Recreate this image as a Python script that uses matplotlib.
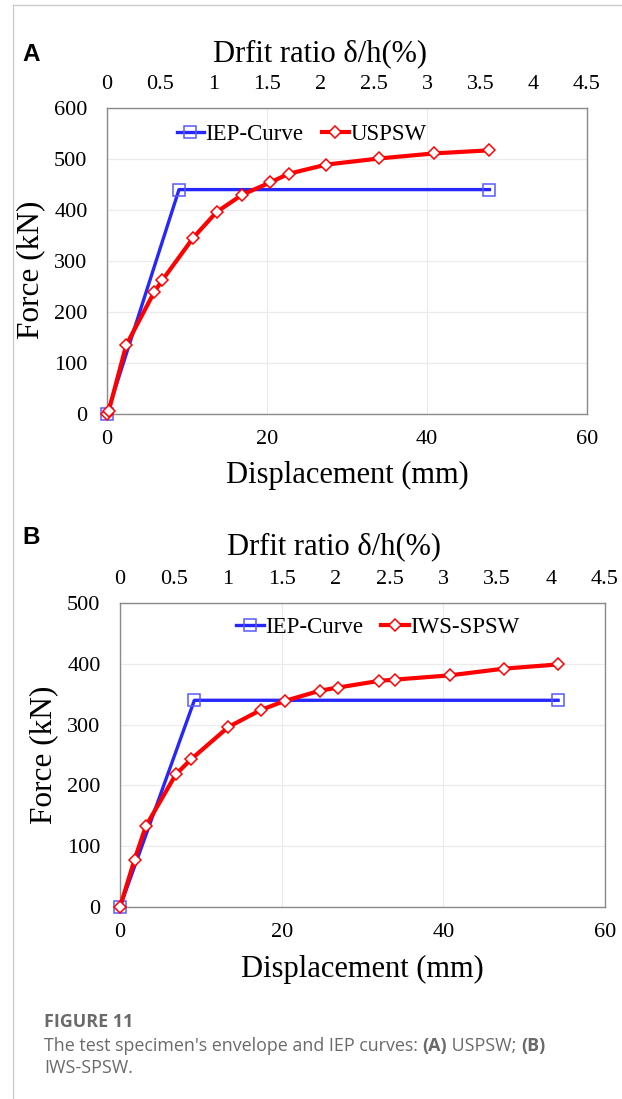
import matplotlib.pyplot as plt
from matplotlib.lines import Line2D

# data
disp_iep_a = [0, 9.0, 47.8]
force_iep_a = [0, 440, 440]
disp_a = [0, 0.2, 2.4, 5.9, 6.9, 10.8, 13.7, 16.9, 20.4, 22.7, 27.4, 34.0, 40.9, 47.8]
force_a = [0, 5, 135, 239, 262, 346, 396, 430, 454, 471, 489, 501, 511, 517]

disp_iep_b = [0, 9.2, 54.2]
force_iep_b = [0, 340, 340]
disp_b = [0, 1.8, 3.2, 6.9, 8.8, 13.4, 17.4, 20.4, 24.8, 27.0, 32.1, 34.0, 40.8, 47.5, 54.2]
force_b = [0, 78, 133, 218, 243, 296, 324, 339, 356, 361, 372, 374, 381, 392, 399]

disp_ticks = [0, 20, 40, 60]
drift_ticks = [0, 0.5, 1, 1.5, 2, 2.5, 3, 3.5, 4, 4.5]
drift_labels = ['0', '0.5', '1', '1.5', '2', '2.5', '3', '3.5', '4', '4.5']
force_ticks_a = [0, 100, 200, 300, 400, 500, 600]
force_ticks_b = [0, 100, 200, 300, 400, 500]

serif = 'Liberation Serif'
blue = '#2626ff'
red = '#ff0000'

fig = plt.figure(figsize=(6.22, 10.99), dpi=100)

# page frame
fig.add_artist(Line2D([12.7 / 622, 12.7 / 622], [0, 1 - 4.7 / 1099], color='#c8c8c8', lw=0.9))
fig.add_artist(Line2D([12.7 / 622, 1], [1 - 4.7 / 1099, 1 - 4.7 / 1099], color='#c8c8c8', lw=0.9))


def panel(rect, iep_x, iep_y, xs, ys, name, yticks, leg_x, leg_y, title_x, title_y, xl_y, yl_y):
    ax = fig.add_axes(rect)
    ax.plot(iep_x, iep_y, color=blue, lw=2.4, marker='s', ms=8,
            mfc='none', mec='#5a5aff', mew=1.1, label='IEP-Curve', zorder=3, clip_on=False)
    ax.plot(xs, ys, color=red, lw=3.0, marker='D', ms=6.4,
            mfc='white', mec=red, mew=1.1, label=name, zorder=4, clip_on=False)
    ax.set_xlim(0, 60)
    ax.set_ylim(0, yticks[-1])
    ax.set_xticks(disp_ticks)
    ax.set_yticks(yticks)
    ax.set_xticklabels([str(t) for t in disp_ticks], fontfamily=serif, fontsize=16)
    ax.set_yticklabels([str(t) for t in yticks], fontfamily=serif, fontsize=16)
    ax.tick_params(axis='x', length=0, pad=11.5)
    ax.tick_params(axis='y', length=0, pad=14)
    ax.grid(True, color='#ebebeb', lw=0.9)
    ax.set_axisbelow(True)
    for s in ax.spines.values():
        s.set_color('#8a8a8a')
        s.set_linewidth(1.0)

    top = ax.twiny()
    top.set_xlim(0, 4.5)
    top.set_xticks(drift_ticks)
    top.set_xticklabels(drift_labels, fontfamily=serif, fontsize=16)
    top.tick_params(axis='x', length=0, pad=10)
    for s in top.spines.values():
        s.set_visible(False)

    ax.text(title_x, title_y, 'Drfit ratio δ/h(%)', transform=ax.transAxes,
            ha='center', va='baseline', fontfamily=serif, fontsize=22)
    ax.text(0.5, xl_y, 'Displacement (mm)', transform=ax.transAxes,
            ha='center', va='baseline', fontfamily=serif, fontsize=22)
    ax.text(-0.158, yl_y, 'Force (kN)', transform=ax.transAxes, rotation=90,
            ha='center', va='center', fontfamily=serif, fontsize=22.5)

    ax.legend(loc='center left', bbox_to_anchor=(leg_x, leg_y), ncol=2, frameon=False,
              prop={'family': serif, 'size': 16.5}, handlelength=1.2,
              handletextpad=0.05, columnspacing=0.8, borderpad=0, borderaxespad=0)
    return ax


panel([107 / 622, 1 - 414 / 1099, 480 / 622, 306 / 1099],
      disp_iep_a, force_iep_a, disp_a, force_a, 'USPSW', force_ticks_a,
      0.145, 0.912, 0.444, 1.154, -0.2255, 0.47)
panel([120 / 622, 1 - 907 / 1099, 485 / 622, 304 / 1099],
      disp_iep_b, force_iep_b, disp_b, force_b, 'IWS-SPSW', force_ticks_b,
      0.24, 0.921, 0.441, 1.161, -0.23, 0.5)

# panel letters
fig.text(22 / 622, 1 - 61 / 1099, 'A', fontfamily='Liberation Sans', fontweight='bold',
         fontsize=17.5, va='baseline')
fig.text(22 / 622, 1 - 544 / 1099, 'B', fontfamily='Liberation Sans', fontweight='bold',
         fontsize=17.5, va='baseline')

# caption
cap = 'Open Sans'
grey = '#6a6a6a'
size = 12.9
fig.text(44 / 622, 1 - 1027 / 1099, 'FIGURE 11', fontfamily=cap, fontweight='bold',
         fontsize=size, color=grey, va='baseline')
t1 = fig.text(44 / 622, 1 - 1051 / 1099, "The test specimen's envelope and IEP curves: ",
              fontfamily=cap, fontsize=size, color=grey, va='baseline')
t2 = fig.text(0, 0, '(A)', fontfamily=cap, fontweight='bold', fontsize=size, color=grey)
t3 = fig.text(0, 0, ' USPSW; ', fontfamily=cap, fontsize=size, color=grey)
t4 = fig.text(0, 0, '(B)', fontfamily=cap, fontweight='bold', fontsize=size, color=grey)
fig.text(44 / 622, 1 - 1073 / 1099, 'IWS-SPSW.', fontfamily=cap, fontsize=size,
         color=grey, va='baseline')

fig.canvas.draw()
r = fig.canvas.get_renderer()
prev = t1
for t in (t2, t3, t4):
    bb = prev.get_window_extent(r)
    x = bb.x1 / fig.bbox.width
    t.set_position((x, 1 - 1051 / 1099))
    t.set_va('baseline')
    fig.canvas.draw()
    prev = t

fig.savefig('out.png', dpi=100)
